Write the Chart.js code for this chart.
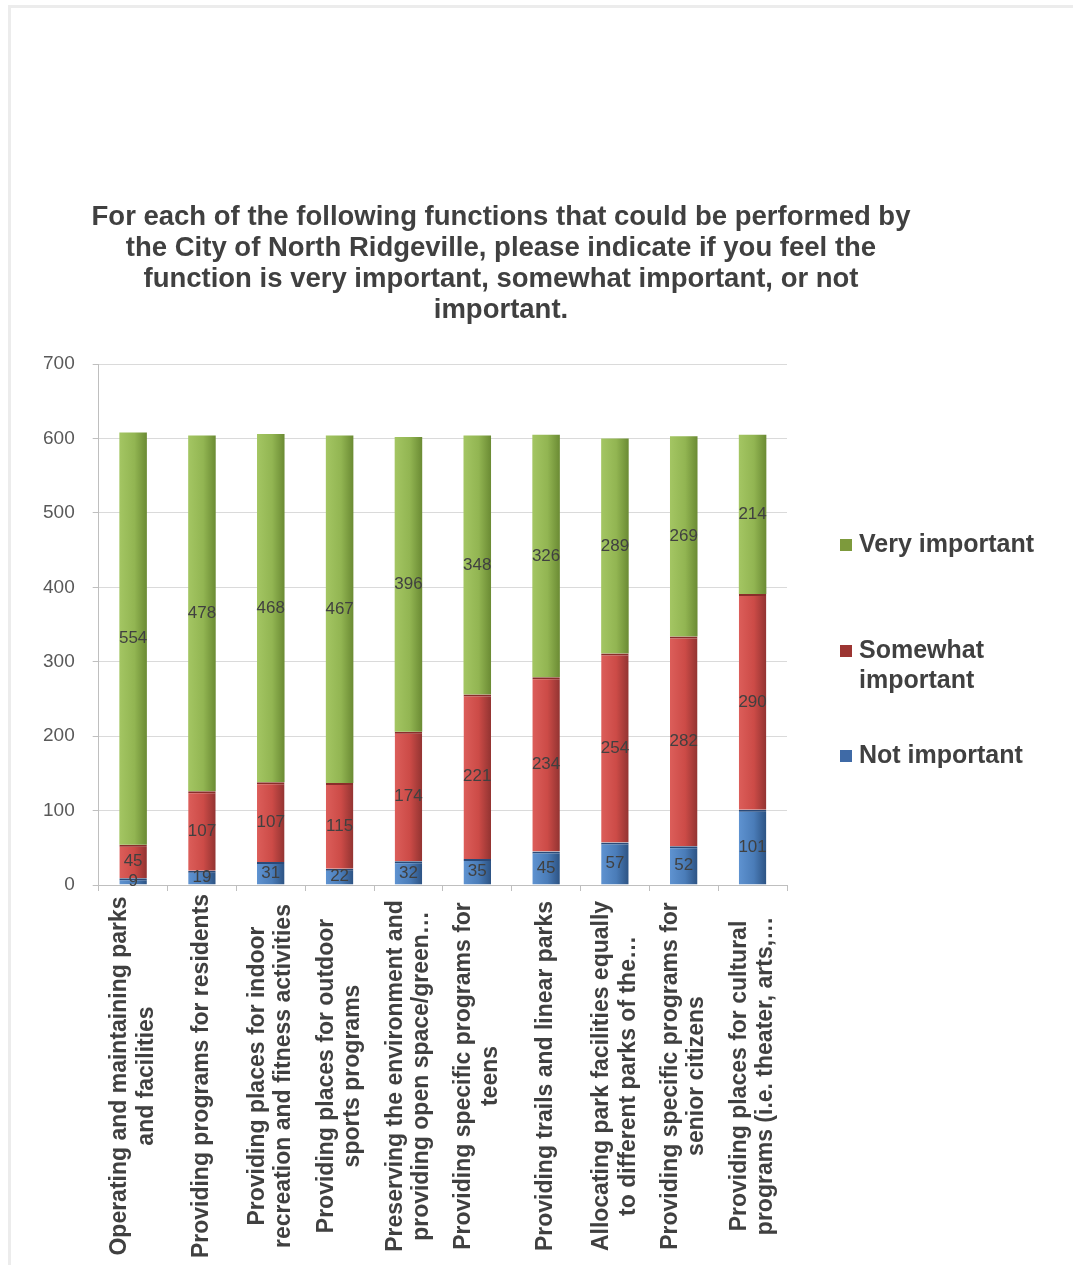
<html>
<head>
  <title></title>
  <style>
    body { margin: 0; background: #fff; }
    #frame { position: absolute; left: 8px; top: 5px; width: 1100px; height: 1300px; border: 3px solid #ececec; }
    #wrap { position: absolute; left: 0; top: 0; width: 1073px; height: 1265px; }
  </style>
</head>
<body>
  <div id="frame"></div>
  <div id="wrap">
  <canvas id="myChart" width="1073" height="1265"></canvas>
</div>

<script src="https://cdn.jsdelivr.net/npm/chart.js"></script>

<script>
  const titleLines = [
    'For each of the following functions that could be performed by',
    'the City of North Ridgeville, please indicate if you feel the',
    'function is very important, somewhat important, or not',
    'important.'
  ]
  const categories = [
    ['Operating and maintaining parks', 'and facilities'],
    ['Providing programs for residents'],
    ['Providing places for indoor', 'recreation and fitness activities'],
    ['Providing places for outdoor', 'sports programs'],
    ['Preserving the environment and', 'providing open space/green…'],
    ['Providing specific programs for', 'teens'],
    ['Providing trails and linear parks'],
    ['Allocating park facilities equally', 'to different parks of the…'],
    ['Providing specific programs for', 'senior citizens'],
    ['Providing places for cultural', 'programs (i.e. theater, arts,…']
  ]
  const notImportant = [9, 19, 31, 22, 32, 35, 45, 57, 52, 101]
  const somewhatImportant = [45, 107, 107, 115, 174, 221, 234, 254, 282, 290]
  const veryImportant = [554, 478, 468, 467, 396, 348, 326, 289, 269, 214]
  const yMax = 700
  const yStep = 100

  const FONT = "'Liberation Sans', Arial, sans-serif"
  const TEXT = '#404040'

  // left light -> mid -> dark right edge, like the old excel cylinders
  function barFill(stops) {
    return ctx => {
      const chart = ctx.chart
      if (!chart.chartArea || !chart.scales.x) return stops[1]
      const x = chart.scales.x.getPixelForValue(ctx.dataIndex)
      const g = chart.ctx.createLinearGradient(x - 14, 0, x + 14, 0)
      g.addColorStop(0, stops[0])
      g.addColorStop(0.55, stops[1])
      g.addColorStop(1, stops[2])
      return g
    }
  }

  const valueLabels = {
    id: 'valueLabels',
    afterDatasetsDraw(chart) {
      const ctx = chart.ctx
      ctx.save()
      ctx.font = '17px ' + FONT
      ctx.fillStyle = TEXT
      ctx.textAlign = 'center'
      ctx.textBaseline = 'middle'
      chart.data.datasets.forEach((ds, di) => {
        chart.getDatasetMeta(di).data.forEach((bar, i) => {
          ctx.fillText(ds.data[i], bar.x, (bar.y + bar.base) / 2)
        })
      })
      ctx.restore()
    }
  }

  const extras = {
    id: 'extras',
    afterDraw(chart) {
      const ctx = chart.ctx
      ctx.save()
      ctx.fillStyle = TEXT
      ctx.textAlign = 'center'
      ctx.textBaseline = 'middle'
      // title
      ctx.font = 'bold 27.5px ' + FONT
      titleLines.forEach((t, i) => ctx.fillText(t, 501, 217 + i * 31.3))
      // category labels, rotated and centred
      const x = chart.scales.x
      ctx.font = 'bold 23px ' + FONT
      categories.forEach((lines, i) => {
        ctx.save()
        ctx.translate(x.getPixelForTick(i), 1076)
        ctx.rotate(-Math.PI / 2)
        lines.forEach((ln, j) => ctx.fillText(ln, 0, (j - (lines.length - 1) / 2) * 26.5))
        ctx.restore()
      })
      // legend (top to bottom: very, somewhat, not)
      const items = [
        { ds: 2, lines: ['Very important'], y: 545 },
        { ds: 1, lines: ['Somewhat', 'important'], y: 651 },
        { ds: 0, lines: ['Not important'], y: 756 }
      ]
      ctx.textAlign = 'left'
      ctx.font = 'bold 25px ' + FONT
      items.forEach(it => {
        ctx.fillStyle = chart.data.datasets[it.ds].legendColor
        ctx.fillRect(840, it.y - 6, 12, 12)
        ctx.fillStyle = TEXT
        it.lines.forEach((ln, j) => ctx.fillText(ln, 859, it.y + j * 30))
      })
      ctx.restore()
    }
  }

  const ctx = document.getElementById('myChart')
  new Chart(ctx, {
    type: 'bar',
    data: {
      labels: categories,
      datasets: [{
        label: 'Not important',
        data: notImportant,
        backgroundColor: barFill(['#5f93d1', '#4a7cb8', '#2c5282']),
        borderColor: '#2a4a78',
        borderWidth: { top: 2, left: 0, right: 0, bottom: 0 },
        borderSkipped: false,
        legendColor: '#3f6aa6'
      }, {
        label: 'Somewhat important',
        data: somewhatImportant,
        backgroundColor: barFill(['#dc5e5a', '#cc4b47', '#913331']),
        borderColor: '#8a2e2b',
        borderWidth: { top: 2, left: 0, right: 0, bottom: 0 },
        borderSkipped: false,
        legendColor: '#9c3532'
      }, {
        label: 'Very important',
        data: veryImportant,
        backgroundColor: barFill(['#a4c663', '#92b552', '#6a8a33']),
        borderWidth: 0,
        legendColor: '#7d9a3c'
      }]
    },
    options: {
      responsive: false,
      animation: false,
      layout: { padding: { top: 364, left: 25, right: 286, bottom: 0 } },
      plugins: {
        legend: { display: false },
        title: { display: false },
        tooltip: { enabled: false }
      },
      datasets: { bar: { barPercentage: 0.4, categoryPercentage: 1 } },
      scales: {
        x: {
          stacked: true,
          grid: { display: true, drawOnChartArea: false, drawTicks: true, tickLength: 6, color: '#bfbfbf', offset: true },
          border: { color: '#bfbfbf' },
          ticks: { display: false },
          afterFit(scale) { scale.height = 380 }
        },
        y: {
          stacked: true,
          min: 0,
          max: yMax,
          grid: { color: '#dadada', tickLength: 6, tickColor: '#bfbfbf' },
          border: { color: '#bfbfbf' },
          ticks: {
            stepSize: yStep,
            padding: 18,
            color: '#595959',
            font: { family: FONT, size: 19 }
          }
        }
      }
    },
    plugins: [valueLabels, extras]
  })
</script>

</body>
</html>
